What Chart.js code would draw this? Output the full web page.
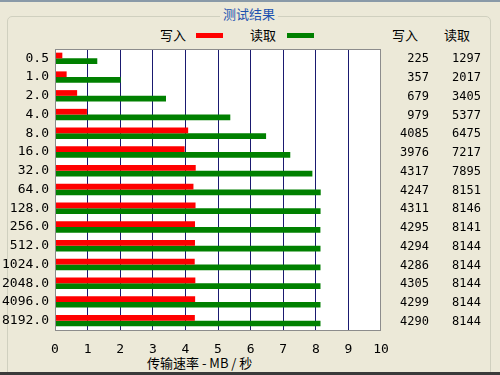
<!DOCTYPE html>
<html>
<head>
<meta charset="utf-8">
<script src="https://cdn.jsdelivr.net/npm/chart.js@4/dist/chart.umd.min.js"></script>
<style>
  body { margin: 0; background: #ece9d8; }
  #wrap { position: relative; width: 500px; height: 375px; overflow: hidden; background: #ece9d8; font-family: "Noto Sans CJK SC", sans-serif; }
  #topline { position: absolute; left: 0; top: 0; width: 500px; height: 2px; background: #8a9aa8; }
  #botline { position: absolute; left: 0; top: 372px; width: 500px; height: 3px; background: #3a3a3a; }
  #group { position: absolute; left: 7px; top: 16px; width: 482px; height: 370px; border: 1px solid #d0d0bf; border-radius: 5px; }
  .t { position: absolute; font-size: 13px; line-height: 16px; color: #000; white-space: nowrap; }
  #title { left: 220px; top: 6px; padding: 0 3px; background: #ece9d8; color: #1c52b0; }
  .key { position: absolute; height: 5px; }
  canvas { position: absolute; left: 0; top: 0; }
</style>
</head>
<body>
<div id="wrap">
  <div id="topline"></div>
  <div id="group"></div>
  <div id="botline"></div>
  <div class="t" id="title">测试结果</div>
  <div class="t" style="left:160px;top:27px;">写入</div>
  <div class="key" style="left:196px;top:33px;width:27px;background:#ff0000;"></div>
  <div class="t" style="left:250px;top:27px;">读取</div>
  <div class="key" style="left:287px;top:33px;width:27px;background:#008000;"></div>
  <div class="t" style="left:392px;top:27px;">写入</div>
  <div class="t" style="left:444px;top:27px;">读取</div>
  <div class="t" style="left:147px;top:355px;">传输速率 - MB / 秒</div>
  <canvas id="chart" width="500" height="375"></canvas>
</div>
<script>
const sizes = ["0.5", "1.0", "2.0", "4.0", "8.0", "16.0", "32.0", "64.0", "128.0", "256.0", "512.0", "1024.0", "2048.0", "4096.0", "8192.0"];
const writeKB = [225, 357, 679, 979, 4085, 3976, 4317, 4247, 4311, 4295, 4294, 4286, 4305, 4299, 4290];
const readKB = [1297, 2017, 3405, 5377, 6475, 7217, 7895, 8151, 8146, 8141, 8144, 8144, 8144, 8144, 8144];
const xTicks = [0, 1, 2, 3, 4, 5, 6, 7, 8, 9, 10];

// white plot area, gray frame and the two value columns on the right
const panel = {
  id: "panel",
  beforeDraw(chart) {
    const { ctx, chartArea: a } = chart;
    ctx.save();
    ctx.fillStyle = "#ffffff";
    ctx.fillRect(a.left, a.top, a.right - a.left, a.bottom - a.top);
    ctx.restore();
  },
  afterDraw(chart) {
    const { ctx, chartArea: a } = chart;
    const y = chart.scales.y;
    ctx.save();
    ctx.strokeStyle = "#8c8c8c";
    ctx.lineWidth = 1;
    ctx.strokeRect(a.left + 0.5, a.top + 0.5, a.right - a.left - 1, a.bottom - a.top);
    ctx.font = "12px 'DejaVu Sans Mono'";
    ctx.fillStyle = "#000";
    ctx.textAlign = "right";
    ctx.textBaseline = "middle";
    sizes.forEach((s, i) => {
      const py = y.getPixelForValue(i) + 1;
      ctx.fillText(String(writeKB[i]), 429, py);
      ctx.fillText(String(readKB[i]), 481, py);
    });
    ctx.restore();
  }
};

new Chart(document.getElementById("chart"), {
  type: "bar",
  data: {
    labels: sizes,
    datasets: [
      { label: "写入", data: writeKB.map((v) => v / 1000), backgroundColor: "#ff0000" },
      { label: "读取", data: readKB.map((v) => v / 1000), backgroundColor: "#008000" }
    ]
  },
  options: {
    indexAxis: "y",
    responsive: false,
    animation: false,
    layout: { padding: { left: 0, right: 119, top: 49, bottom: 0 } },
    datasets: { bar: { barPercentage: 1, categoryPercentage: 0.61, borderWidth: 0 } },
    plugins: { legend: { display: false }, tooltip: { enabled: false } },
    scales: {
      x: {
        min: 0,
        max: 10,
        afterBuildTicks: (s) => { s.ticks = xTicks.map((v) => ({ value: v })); },
        afterFit: (s) => { s.height = 45; },
        border: { display: false },
        grid: {
          drawTicks: false,
          color: (c) => (c.index === 0 || c.index === 10 ? "rgba(0,0,0,0)" : "#1a1a70"),
          lineWidth: 1
        },
        ticks: { padding: 12, color: "#000", font: { family: "DejaVu Sans Mono", size: 13 } }
      },
      y: {
        afterFit: (s) => { s.width = 55; },
        border: { display: false },
        grid: { display: false, drawTicks: false },
        ticks: { padding: 6, color: "#000", font: { family: "DejaVu Sans Mono", size: 13 } }
      }
    }
  },
  plugins: [panel]
});
</script>
</body>
</html>
